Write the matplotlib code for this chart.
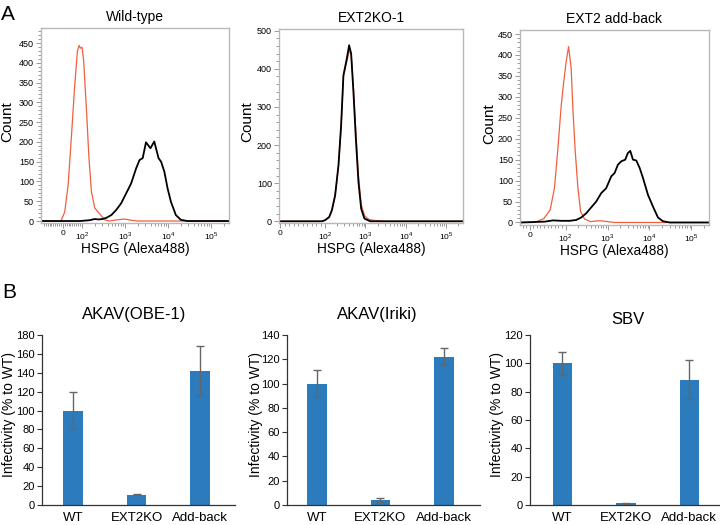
import numpy as np
import matplotlib
matplotlib.use('Agg')
import matplotlib.pyplot as plt
from matplotlib.ticker import FixedLocator

plt.rcParams['font.family'] = ['Liberation Sans', 'DejaVu Sans']
plt.rcParams['mathtext.fontset'] = 'custom'
plt.rcParams['mathtext.rm'] = 'Liberation Sans'

# --- panel A: flow cytometry histograms (HSPG intensity vs count) ---
wt_red_x = [-117, -10, 10, 28, 46, 63, 77, 86, 93, 102, 111, 128, 147, 168, 200, 261, 339, 443, 650, 980, 1400, 2000, 262144]
wt_red_y = [0, 0, 23, 91, 218, 344, 429, 444, 437, 439, 403, 286, 159, 74, 33, 18, 3, 0, 3, 5, 2, 0, 0]
wt_black_x = [-117, 90, 150, 200, 250, 300, 372, 485, 632, 824, 1075, 1400, 1830, 2190, 2600, 3100, 3930, 4830,
              6060, 6950, 8260, 9820, 11730, 15320, 20000, 28500, 262144]
wt_black_y = [0, 0, 2, 5, 4, 5, 8, 15, 28, 45, 70, 95, 133, 154, 159, 199, 184, 201,
              159, 150, 125, 83, 49, 15, 3, 0, 0]

ko_red_x = [-3, 93, 100, 126, 147, 177, 214, 249, 284, 345, 400, 441, 503, 577, 670, 782, 944, 1200, 1700, 3000, 262144]
ko_red_y = [0, 0, 3, 12, 30, 70, 145, 250, 380, 420, 448, 440, 350, 235, 120, 45, 15, 5, 2, 0, 0]
ko_black_x = [-3, 93, 100, 126, 147, 177, 214, 249, 284, 345, 393, 441, 503, 577, 670, 782, 944, 1310, 262144]
ko_black_y = [0, 0, 3, 11, 29, 68, 147, 252, 383, 427, 462, 440, 339, 217, 103, 33, 7, 0, 0]

ab_red_x = [-27, 10, 16, 39, 57, 69, 78, 88, 94, 103, 118, 136, 149, 170, 197, 228, 284, 400, 580, 700, 850, 1470, 262144]
ab_red_y = [0, 0, 1, 9, 30, 82, 170, 281, 329, 384, 420, 368, 273, 169, 82, 26, 8, 2, 4, 4, 3, 0, 0]
ab_black_x = [-27, 42, 65, 88, 125, 179, 236, 310, 408, 537, 707, 930, 1225, 1470, 1770, 2120, 2640, 3060,
              3480, 4040, 4850, 5840, 7010, 9200, 12100, 15900, 20900, 30500, 262144]
ab_black_y = [0, 2, 5, 4, 4, 6, 12, 22, 36, 50, 70, 82, 110, 118, 138, 146, 150, 166,
              171, 150, 148, 130, 106, 66, 38, 12, 3, 0, 0]

flow_ticks = [0, 100, 1000, 10000, 100000]
flow_ticklabels = ['0', '$10^2$', '$10^3$', '$10^4$', '$10^5$']

# --- panel B: infectivity bars ---
cats = ['WT', 'EXT2KO', 'Add-back']
obe_mean = [100, 11, 142]
obe_err = [20, 0.6, 26]
iriki_mean = [100, 4, 122]
iriki_err = [11, 1.5, 7]
sbv_mean = [100, 1.2, 88.5]
sbv_err = [8.3, 0.5, 14]

RED = '#f0603f'
BLUE = '#2b7bbd'
W, H = 720, 525

fig = plt.figure(figsize=(7.2, 5.25), dpi=100)


def rect(left, top, right, bottom):
    return [left / W, 1 - bottom / H, (right - left) / W, (bottom - top) / H]


def flow_panel(box, title, rx, ry, bx, by, linscale, xlo, ylim, ymajor, yminor, label_dx):
    ax = fig.add_axes(rect(*box))
    ax.set_xscale('symlog', linthresh=100, linscale=linscale, base=10)
    ax.plot(rx, ry, color=RED, lw=0.9)
    ax.plot(bx, by, color='black', lw=1.3)
    ax.set_xlim(xlo, 262144)
    ax.set_ylim(*ylim)
    ax.xaxis.set_major_locator(FixedLocator(flow_ticks))
    ax.set_xticklabels(flow_ticklabels)
    minors = [v for v in range(-100, 101, 10) if v != 0]
    for d in range(2, 6):
        minors += [k * 10 ** d for k in range(2, 10)]
    minors = [v for v in minors if xlo <= v <= 262144]
    ax.xaxis.set_minor_locator(FixedLocator(minors))
    ax.set_yticks(np.arange(0, ylim[1], ymajor))
    ax.yaxis.set_minor_locator(FixedLocator(np.arange(0, ylim[1], yminor)))
    for s in ax.spines.values():
        s.set_color('#b8b8b8')
        s.set_linewidth(1)
    ax.tick_params(which='both', direction='out', color='#888888', width=0.6)
    ax.tick_params(which='major', length=3.5, labelsize=6.5, pad=1.5)
    ax.tick_params(which='minor', length=2)
    ax.tick_params(axis='x', which='major', labelsize=6, pad=1.5)
    ax.set_title(title, fontsize=10, pad=5)
    w_px = box[2] - box[0]
    h_px = box[3] - box[1]
    ax.set_ylabel('Count', fontsize=11)
    ax.yaxis.label.set_va('center')
    ax.yaxis.set_label_coords(label_dx / w_px, 0.52)
    ax.set_xlabel('HSPG (Alexa488)', fontsize=9.8)
    ax.xaxis.label.set_va('center')
    ax.xaxis.set_label_coords(0.5, -26.5 / h_px)
    return ax


flow_panel((41, 28, 229, 223), 'Wild-type', wt_red_x, wt_red_y, wt_black_x, wt_black_y,
           0.395, -117, (-5, 488), 50, 10, -33.5)
flow_panel((279, 29, 463, 223), 'EXT2KO-1', ko_red_x, ko_red_y, ko_black_x, ko_black_y,
           1.0, -3, (-4.5, 504.5), 100, 20, -32)
flow_panel((520, 30, 709, 225), 'EXT2 add-back', ab_red_x, ab_red_y, ab_black_x, ab_black_y,
           0.77, -27, (-6, 459.6), 50, 10, -31)


def bar_panel(left, title, tx, ty, means, errs, ymax, xlo, label_dx):
    width_px = 193
    ax = fig.add_axes(rect(left, 335, left + width_px, 505))
    x = np.arange(len(cats))
    ax.bar(x, means, width=0.31, color=BLUE, yerr=errs,
           error_kw=dict(ecolor='#666666', elinewidth=1, capsize=3, capthick=1))
    ax.set_xticks(x, cats)
    ax.set_xlim(xlo, xlo + width_px / 63.5)
    ax.set_ylim(0, ymax)
    ax.set_yticks(np.arange(0, ymax + 1, 20))
    ax.spines['top'].set_visible(False)
    ax.spines['right'].set_visible(False)
    for s in ('left', 'bottom'):
        ax.spines[s].set_color('#333333')
        ax.spines[s].set_linewidth(0.9)
    ax.tick_params(axis='x', length=0, pad=5, labelsize=9.5)
    ax.tick_params(axis='y', length=3.5, width=0.8, pad=1.5, labelsize=8, color='#333333')
    ax.set_ylabel('Infectivity (% to WT)', fontsize=10)
    ax.yaxis.label.set_va('center')
    ax.yaxis.set_label_coords(label_dx / width_px, 0.535)
    fig.text(tx / W, 1 - ty / H, title, fontsize=12, ha='center', va='center')
    return ax


bar_panel(42, 'AKAV(OBE-1)', 134, 315, obe_mean, obe_err, 180, -0.49, -33)
bar_panel(287, 'AKAV(Iriki)', 377, 315, iriki_mean, iriki_err, 140, -0.47, -31)
bar_panel(530, 'SBV', 628, 319, sbv_mean, sbv_err, 120, -0.51, -33)

fig.text(1 / W, 1 - 14 / H, 'A', fontsize=15, ha='left', va='center')
fig.text(2 / W, 1 - 293 / H, 'B', fontsize=15, ha='left', va='center')

fig.savefig('out.png', dpi=100, facecolor='white')
